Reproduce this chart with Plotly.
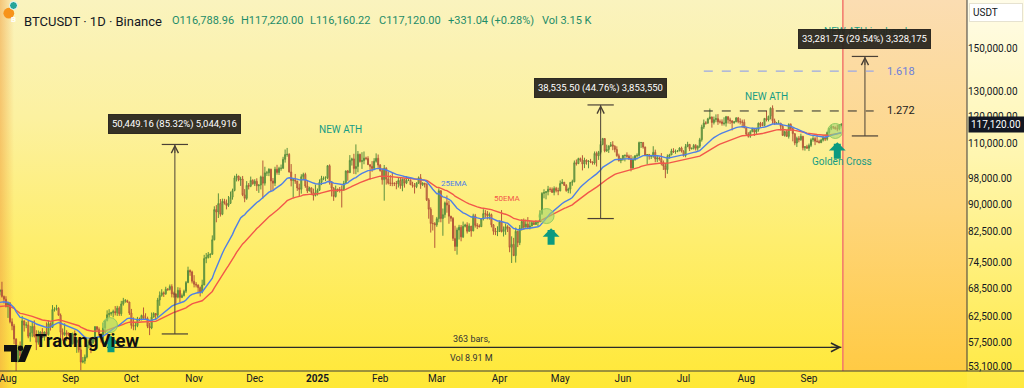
import math
import base64
from datetime import date, datetime, timedelta
import plotly.graph_objects as go

FONT = "Roboto"

# ---------------- data (daily high, low, close) ----------------
jul_2024 = [(68300, 67050, 68250), (70080, 66550, 66800), (67000, 65300, 66200), (66850, 64500, 64600)]
aug_2024 = [(65600, 62300, 65350), (65600, 61200, 61500), (62200, 59850, 60700), (61100, 57200, 58150),
            (58300, 49000, 54000), (57050, 53950, 56050), (57700, 54600, 55100), (62700, 54750, 61700),
            (61750, 59600, 60850), (61450, 60250, 60900), (61850, 58300, 58700), (60700, 57650, 59350),
            (61550, 58500, 60600), (61800, 58450, 58700), (59850, 56100, 57550), (59800, 57100, 58900),
            (59650, 58800, 59500), (60250, 58400, 58450), (59600, 57850, 59500), (61400, 58600, 59000),
            (61800, 58800, 61150), (61400, 59800, 60400), (64950, 60350, 64050), (64500, 63600, 64150),
            (65000, 63800, 64250), (64500, 62800, 62850), (63200, 58050, 59450), (60200, 57850, 59000),
            (61200, 58750, 59350), (59850, 57750, 59100), (59450, 58700, 58950)]
sep_2024 = [(59000, 57200, 57300), (59400, 57100, 59100), (59800, 57400, 57500), (58500, 55600, 57950),
            (58300, 55650, 56150), (56950, 52550, 53950), (54850, 53750, 54150), (55300, 53650, 54850),
            (58100, 54600, 57050), (58050, 56400, 57650), (57950, 55550, 57350), (58600, 57350, 58150),
            (60650, 57650, 60550), (60600, 59450, 60000), (60400, 58700, 59150), (59200, 57500, 58200),
            (61300, 57600, 60300), (61800, 59200, 61750), (63850, 61600, 62950), (64100, 62400, 63200),
            (63550, 62750, 63350), (64000, 62400, 63600), (64750, 62800, 63350), (64800, 62700, 64300),
            (64700, 62700, 63150), (65850, 62700, 65200), (66500, 64850, 65800), (66250, 65450, 65900),
            (66100, 65450, 65600), (65650, 62900, 63300)]
oct_2024 = [(64150, 60150, 60800), (62400, 59850, 60650), (61450, 59850, 60750), (62500, 60450, 62100),
            (62350, 61650, 62050), (62950, 61800, 62800), (64450, 62100, 62250), (63250, 61850, 62150),
            (62550, 60250, 60600), (61300, 58900, 60300), (63400, 60050, 62450), (63450, 62450, 63200),
            (63300, 62000, 62850), (66500, 62400, 66050), (67900, 64800, 67050), (68400, 66750, 67600),
            (67900, 66700, 67400), (68950, 67150, 68400), (68650, 68000, 68350), (69450, 68100, 69000),
            (69500, 66600, 67350), (67850, 66550, 67350), (67450, 65250, 66650), (68850, 66400, 68150),
            (68750, 65550, 66600), (67450, 66450, 67000), (68300, 66800, 67950), (70250, 67550, 69900),
            (73600, 69750, 72700), (72950, 71450, 72350), (72650, 69700, 70200)]
nov_2024 = [(71600, 68800, 69500), (70000, 68800, 69350), (69450, 67450, 68750), (69000, 66800, 67800),
            (70550, 67450, 69350), (76500, 69300, 75600), (76950, 74450, 75850), (77200, 75600, 76500),
            (76850, 75750, 76650), (81500, 76500, 80350), (89600, 80200, 88650), (89950, 85050, 87950),
            (93450, 86250, 90400), (91750, 86650, 87300), (91850, 87050, 91050), (91800, 90100, 90600),
            (91600, 88700, 89850), (92650, 89400, 90450), (94000, 90550, 92300), (94900, 91550, 94300),
            (99000, 94100, 98300), (99600, 97150, 98900), (98850, 97200, 97650), (98650, 95750, 97900),
            (98900, 92600, 93000), (94750, 90800, 91950), (97250, 91500, 95900), (96650, 94650, 95650),
            (98700, 95350, 97450), (97850, 96150, 96400)]
dec_2024 = [(97850, 95700, 97200), (98150, 94200, 95800), (96300, 93600, 96000), (99000, 94650, 98600),
            (104000, 91900, 96600), (101900, 95850, 99900), (100550, 98900, 99900), (101400, 98850, 101100),
            (101250, 94150, 97300), (98250, 94250, 96600), (101900, 95700, 101100), (102550, 99300, 100000),
            (101900, 99200, 101400), (102650, 100600, 101400), (105250, 101250, 104400), (107800, 103300, 106050),
            (108350, 105300, 106100), (106500, 100000, 100200), (102800, 95600, 97450), (98150, 92200, 97700),
            (99550, 96400, 97250), (97350, 94200, 95100), (96450, 92400, 94700), (99450, 93350, 98650),
            (99950, 97600, 99400), (99950, 95150, 95700), (97550, 93550, 94200), (95500, 94050, 95150),
            (95200, 92900, 93700), (94900, 91300, 92800), (96150, 92500, 93600)]
jan_2025 = [(94950, 92800, 94400), (97800, 94200, 96900), (98950, 96000, 98100), (98750, 97550, 98250),
            (98800, 97250, 98350), (102500, 97900, 102250), (102700, 96150, 96950), (97250, 92500, 95050),
            (95350, 91200, 92500), (95850, 92200, 94700), (94950, 93850, 94550), (95400, 93700, 94500),
            (95900, 89250, 94500), (97350, 94300, 96550), (100700, 96500, 100500), (100850, 97350, 99950),
            (105850, 99950, 104050), (104950, 102300, 104550), (106300, 99550, 101300), (109600, 99450, 102000),
            (107250, 100100, 106150), (106300, 103300, 103650), (106850, 101200, 103950), (107100, 102750, 104800),
            (105300, 104100, 104700), (105450, 102500, 102600), (102650, 97750, 102050), (103800, 100250, 101350),
            (104800, 101300, 103750), (106450, 103300, 104750), (106050, 101550, 102450)]
feb_2025 = [(102800, 100300, 100650), (101450, 96150, 97700), (102500, 91250, 101400), (101750, 96150, 97900),
            (100200, 96200, 96600), (99200, 95700, 96550), (100150, 95650, 96550), (96900, 95700, 96500),
            (97300, 94700, 96450), (98350, 95250, 97450), (98500, 94850, 95800), (98100, 94100, 97850),
            (98000, 95200, 96600), (98800, 96300, 97500), (97950, 97250, 97550), (97750, 96050, 96100),
            (97050, 95200, 95800), (96650, 93400, 95550), (96900, 95050, 96600), (98750, 96400, 98300),
            (99500, 94850, 96150), (96900, 95700, 96600), (96650, 95250, 96300), (96500, 91150, 91500),
            (92000, 86050, 88750), (89300, 82250, 84700), (87050, 82800, 84700), (85100, 78250, 84350)]
mar_2025 = [(86550, 83800, 86050), (95000, 85050, 94250), (94400, 85050, 86100), (88950, 81400, 87200),
            (91000, 86300, 90600), (92800, 87750, 89950), (91250, 84650, 86750), (86850, 85250, 86150),
            (86500, 80050, 80700), (84100, 77450, 78600), (83600, 76550, 82950), (84350, 80400, 83700),
            (84300, 79950, 81100), (85250, 80800, 83950), (84650, 83650, 84300), (85050, 82000, 82600),
            (84750, 82450, 84000), (84000, 81150, 82700), (87450, 82600, 86850), (87400, 83600, 84200),
            (84800, 83200, 84050), (84500, 83650, 83850), (86100, 83750, 86050), (88750, 85550, 87500),
            (88500, 86300, 87400), (88250, 85850, 86900), (87800, 85800, 87200), (87500, 83650, 84350),
            (84550, 81650, 82600), (83500, 81550, 82400), (83950, 81300, 82550)]
apr_2025 = [(85500, 82450, 85150), (88500, 82300, 82500), (83900, 81200, 83100), (84700, 81650, 83850),
            (84250, 82400, 83500), (83800, 77150, 78400), (81250, 74500, 79150), (80850, 76200, 76300),
            (83600, 74600, 82600), (82700, 78450, 79600), (84300, 78950, 83400), (85900, 82800, 85300),
            (86100, 83050, 83700), (85800, 83700, 84550), (86500, 83600, 83650), (85500, 83100, 84050),
            (85450, 83950, 84950), (85100, 84300, 84450), (85600, 84400, 85050), (85300, 83950, 85150),
            (88450, 85150, 87500), (93800, 87100, 93450), (94700, 91950, 93700), (94050, 91650, 93950),
            (95750, 92850, 94700), (95300, 93900, 94650), (95250, 93600, 93750), (95600, 92850, 94950),
            (95450, 93750, 94300), (95200, 92900, 94200)]
may_2025 = [(97450, 94100, 96500), (97900, 96300, 96900), (96950, 95750, 95900), (96300, 93950, 94300),
            (95200, 93500, 94750), (96950, 93400, 96850), (97700, 95800, 97050), (104000, 96900, 103250),
            (104350, 102300, 102950), (104950, 102800, 104650), (105000, 103550, 104100), (105800, 100700, 102800),
            (104950, 101450, 104150), (104350, 102600, 103550), (104150, 101400, 103750), (104550, 103100, 103500),
            (103700, 102600, 103150), (107100, 102600, 106450), (107100, 102000, 105600), (107300, 104200, 106800),
            (110800, 106100, 109600), (111950, 109300, 111700), (111300, 106800, 107300), (109500, 106950, 107800),
            (109300, 106600, 109000), (110450, 108700, 109450), (110750, 107550, 108950), (109300, 106800, 107800),
            (108900, 105300, 105650), (106350, 103650, 103950), (104900, 103100, 104600)]
jun_2025 = [(105900, 103900, 105700), (105950, 103700, 105800), (106800, 104900, 105450), (106000, 104150, 104700),
            (105900, 100400, 101500), (105400, 101100, 104300), (105900, 103900, 105600), (106450, 104950, 105750),
            (110600, 105350, 110250), (110400, 108350, 110300), (110400, 108100, 108650), (108800, 105650, 105700),
            (106150, 102650, 106050), (106250, 104300, 105450), (105950, 104500, 105500), (108950, 104950, 106800),
            (107750, 103400, 104550), (105550, 103500, 104850), (105250, 103950, 104650), (106550, 102350, 103300),
            (104000, 100850, 102150), (103150, 98200, 100950), (106100, 99600, 105350), (106300, 104650, 105900),
            (108050, 105900, 107300), (108250, 106600, 106950), (107800, 106300, 107100), (107600, 106850, 107300),
            (108550, 107250, 108350), (108800, 106750, 107150)]
jul_2025 = [(107550, 105300, 105700), (109750, 105100, 108850), (110550, 108600, 109600), (109750, 107250, 108050),
            (108400, 107800, 108250), (109750, 107800, 109200), (109700, 107450, 108250), (109250, 107400, 108950),
            (111950, 108350, 111300), (116850, 110600, 115950), (118850, 115250, 117500), (118200, 116900, 117450),
            (119500, 117250, 119100), (123200, 118950, 119850), (119950, 115750, 117700), (120000, 116950, 118800),
            (120850, 117800, 119200), (120950, 116800, 117950), (118850, 117300, 117950), (118900, 116500, 117300),
            (119700, 116550, 117450), (120250, 116150, 119950), (120100, 117300, 118750), (119550, 117100, 118350),
            (118450, 114700, 117650), (118300, 117200, 117950), (119800, 117850, 119450), (119850, 117400, 118050),
            (119300, 116950, 117900), (118800, 115750, 117800), (118900, 115500, 115750)]
aug_2025 = [(116100, 112700, 113300), (114050, 112050, 112550), (114750, 112000, 114200), (115700, 114150, 115150),
            (115150, 112650, 114100), (115750, 113350, 114950), (117650, 114250, 117450), (117950, 115900, 116650),
            (117850, 116350, 116500), (119300, 116500, 119300), (122300, 118100, 118700), (120300, 118100, 120150),
            (123650, 118900, 123300), (124450, 117200, 118350), (119200, 116800, 117350), (117900, 117150, 117400),
            (118600, 117250, 117450), (117550, 114700, 116250), (117000, 112750, 112850), (114600, 112400, 114250),
            (114850, 112400, 112500), (117400, 111700, 116950), (117400, 114650, 115400), (115650, 110700, 113500),
            (113650, 109300, 110100), (112400, 108700, 111800), (112600, 110350, 111250), (113500, 110900, 112550),
            (112650, 107500, 108400), (108950, 107400, 108800), (109450, 108050, 108250)]
sep_2025 = [(109900, 107250, 109250), (111800, 108650, 111250), (112600, 110550, 111700), (112250, 109350, 110750),
            (113350, 110200, 110650), (111300, 110000, 110200), (111650, 110150, 111150), (112900, 110650, 112050),
            (113250, 110800, 111500), (114300, 110950, 113950), (115550, 113450, 115500), (116800, 114800, 116100),
            (116400, 115200, 115950), (116100, 115050, 115300), (116800, 114400, 115300), (117000, 114750, 116788.96),
            (117220.00, 116160.22, 117120.00)]
first_day = date(2024, 7, 28)
first_open = 67880.0

# EMA values at the left edge of the chart
ema25_seed = 65300.0
ema50_seed = 64500.0

# axes
price_ticks = [53100, 57500, 62500, 68500, 74500, 82500, 90000, 98000, 110000, 120000, 130000, 150000]
month_ticks = ["2024-08-01", "2024-09-01", "2024-10-01", "2024-11-01", "2024-12-01", "2025-01-01", "2025-02-01",
               "2025-03-01", "2025-04-01", "2025-05-01", "2025-06-01", "2025-07-01", "2025-08-01", "2025-09-01"]
month_labels = ["Aug", "Sep", "Oct", "Nov", "Dec", "<b>2025</b>", "Feb", "Mar", "Apr", "May", "Jun", "Jul", "Aug", "Sep"]
last_price = 117120.00

# drawings
measure_dates = ["2024-10-22 12:00", "2025-05-21 00:00", "2025-09-28 16:00"]
measure_low = [59129.34, 86093.50, 112666.25]
measure_high = [109578.50, 124629.00, 145948.00]
measure_text = ["50,449.16 (85.32%) 5,044,916", "38,535.50 (44.76%) 3,853,550", "33,281.75 (29.54%) 3,328,175"]
fib_labels = ["1.272", "1.618"]
fib_prices = [122200, 139100]
fib_span = ["2025-07-11", "2025-10-03"]
cross_dates = ["2024-09-20 10:00", "2025-04-24 06:00", "2025-09-14 00:00"]
cross_prices = [60850, 86800, 114500]
signal_dates = ["2024-09-20 22:00", "2025-04-26 12:00", "2025-09-15 00:00"]
signal_prices = [58800, 83400, 110400]
bars_span = ["2024-09-19", "2025-09-17"]
bars_price = 56600
session_line = "2025-09-17 18:00"

# ---------------- assemble ----------------
months = [jul_2024, aug_2024, sep_2024, oct_2024, nov_2024, dec_2024, jan_2025, feb_2025, mar_2025,
          apr_2025, may_2025, jun_2025, jul_2025, aug_2025, sep_2025]
rows = [r for m in months for r in m]
dates = [(first_day + timedelta(days=i)).isoformat() for i in range(len(rows))]
highs = [r[0] for r in rows]
lows = [r[1] for r in rows]
closes = [r[2] for r in rows]
opens = [first_open] + closes[:-1]


def ema(values, span, seed):
    a = 2.0 / (span + 1)
    out, prev = [], seed
    for v in values:
        prev = a * v + (1 - a) * prev
        out.append(prev)
    return out


ema25 = ema(closes, 25, ema25_seed)
ema50 = ema(closes, 50, ema50_seed)

Y_RANGE = [4.7194, 5.2440]
X_RANGE = ["2024-07-28 01:00", "2025-11-18 03:00"]
PW, PH = 967.0, 371.0  # plot area in pixels


def px(x):
    return x / PW


def py(y):
    return (PH - y) / PH


def shift(d, days):
    dt = datetime.fromisoformat(d)
    return (dt + timedelta(days=days)).isoformat(sep=" ")


LOG = math.log10
fig = go.Figure()

zone_far = "2026-01-31"
fig.add_trace(go.Scatter(
    x=[session_line, zone_far, zone_far, session_line, session_line],
    y=[10 ** Y_RANGE[0], 10 ** Y_RANGE[0], 10 ** Y_RANGE[1], 10 ** Y_RANGE[1], 10 ** Y_RANGE[0]],
    mode="lines", line=dict(width=0), fill="toself",
    fillgradient=dict(type="vertical", colorscale=[[0, "#FFCA44"], [0.45, "#FED67E"], [1, "#FBDDB2"]]),
    hoverinfo="skip", showlegend=False))

fig.add_trace(go.Scatter(x=dates, y=ema50, mode="lines", line=dict(color="#F2574A", width=1.4),
                         hoverinfo="skip", showlegend=False))
fig.add_trace(go.Scatter(x=dates, y=ema25, mode="lines", line=dict(color="#4F7FE6", width=1.4),
                         hoverinfo="skip", showlegend=False))

fig.add_trace(go.Candlestick(
    x=dates, open=opens, high=highs, low=lows, close=closes,
    increasing=dict(line=dict(color="#5B8F3E", width=1), fillcolor="rgba(140,170,70,0.8)"),
    decreasing=dict(line=dict(color="#B5583A", width=1), fillcolor="rgba(210,160,90,0.85)"),
    whiskerwidth=0, hoverinfo="skip", showlegend=False))

fig.add_trace(go.Scatter(x=cross_dates, y=cross_prices, mode="markers",
                         marker=dict(size=15, color="rgba(165,215,110,0.6)",
                                     line=dict(color="rgba(140,200,95,0.9)", width=1)),
                         hoverinfo="skip", showlegend=False))

MCOL = "#4A4036"
for d, lo, hi in zip(measure_dates, measure_low, measure_high):
    half = 6.5
    fig.add_trace(go.Scatter(x=[d, d], y=[lo, hi], mode="lines", line=dict(color=MCOL, width=1),
                             hoverinfo="skip", showlegend=False))
    for v in (lo, hi):
        fig.add_trace(go.Scatter(x=[shift(d, -half), shift(d, half)], y=[v, v], mode="lines",
                                 line=dict(color=MCOL, width=1.2), hoverinfo="skip", showlegend=False))

fig.add_trace(go.Scatter(x=fib_span, y=[fib_prices[1]] * 2, mode="lines",
                         line=dict(color="#9AA8E6", width=1.2, dash="dash"), hoverinfo="skip", showlegend=False))
fig.add_trace(go.Scatter(x=fib_span, y=[fib_prices[0]] * 2, mode="lines",
                         line=dict(color="#2B2B2B", width=1, dash="dash"), hoverinfo="skip", showlegend=False))

fig.add_trace(go.Scatter(x=bars_span, y=[bars_price] * 2, mode="lines", line=dict(color="#2A2A2A", width=1.3),
                         hoverinfo="skip", showlegend=False))

shapes = []
shapes.append(dict(type="line", xref="x", yref="paper", x0=session_line, x1=session_line, y0=0, y1=1,
                   line=dict(color="#F2766B", width=1.5)))
shapes.append(dict(type="line", xref="paper", yref="paper", x0=1, x1=1, y0=0, y1=1,
                   line=dict(color="#3A3A3A", width=1)))
shapes.append(dict(type="line", xref="paper", yref="paper", x0=0, x1=1024 / PW, y0=0, y1=0,
                   line=dict(color="#3A3A3A", width=1)))
shapes.append(dict(type="circle", xref="paper", yref="paper", x0=px(3.4), x1=px(14.2), y0=py(18.6), y1=py(7.8),
                   fillcolor="#F7931A", line=dict(width=0)))
shapes.append(dict(type="circle", xref="paper", yref="paper", x0=px(9.5), x1=px(17.5), y0=py(9.5), y1=py(1.5),
                   fillcolor="#26A69A", line=dict(color="white", width=1)))
# TradingView logo mark
logo = ("M {0},{1} L {2},{1} L {2},{3} L {4},{3} L {4},{5} L {0},{5} Z").format(
    px(4), py(345), px(17), py(362), px(11), py(351.5))
shapes.append(dict(type="path", xref="paper", yref="paper", path=logo, fillcolor="#111111", line=dict(width=0)))
shapes.append(dict(type="circle", xref="paper", yref="paper", x0=px(17.8), x1=px(23.2), y0=py(351),
                   y1=py(345.6), fillcolor="#111111", line=dict(width=0)))
slash = "M {0},{1} L {2},{1} L {3},{4} L {5},{4} Z".format(px(25), py(345), px(32), px(25), py(362), px(18))
shapes.append(dict(type="path", xref="paper", yref="paper", path=slash, fillcolor="#111111", line=dict(width=0)))

ann = []


def text_at(x, price, text, color, size, **kw):
    d = dict(x=x, y=LOG(price), xref="x", yref="y", text=text, showarrow=False,
             font=dict(color=color, size=size, family=FONT))
    d.update(kw)
    ann.append(d)


TEAL = "#169C85"
text_at("2025-01-12 14:00", 114900, "NEW ATH", TEAL, 10)
text_at("2025-08-11 00:00", 128300, "NEW ATH", TEAL, 10)
text_at("2025-09-29 00:00", 158500, "NEW ATH is ahead", TEAL, 10)
text_at("2025-09-17 06:00", 103500, "Golden Cross", TEAL, 10)
text_at("2025-03-09 12:00", 96600, "25EMA", "#4F7FE6", 8)
text_at("2025-04-05 00:00", 92000, "50EMA", "#F2574A", 8)
text_at("2025-10-08 14:00", fib_prices[1], fib_labels[1], "#6C80DA", 11, xanchor="left")
text_at("2025-10-08 14:00", fib_prices[0], fib_labels[0], "#222222", 11, xanchor="left")

for d, hi, t, ys in zip(measure_dates, measure_high, measure_text, [20, 17, 17]):
    ann.append(dict(x=d, y=LOG(hi), xref="x", yref="y", ax=0, ay=10, text="", showarrow=True,
                    arrowhead=5, arrowsize=1.4, arrowwidth=1, arrowcolor=MCOL, standoff=0))
    ann.append(dict(x=d, y=LOG(hi), xref="x", yref="y", text=t, showarrow=False, yshift=ys,
                    bgcolor="rgba(38,34,28,0.93)", bordercolor="rgba(38,34,28,0.93)", borderpad=3,
                    font=dict(color="white", size=9.5, family=FONT)))

ann.append(dict(x=bars_span[1], y=LOG(bars_price), xref="x", yref="y", ax=-12, ay=0, text="",
                showarrow=True, arrowhead=5, arrowsize=1.4, arrowwidth=1.2, arrowcolor="#2A2A2A", standoff=0))
text_at("2025-03-18 00:00", bars_price, "363 bars,", "#333333", 9, yshift=8)
text_at("2025-03-18 00:00", bars_price, "Vol 8.91 M", "#333333", 9, yshift=-11)

for d, p in zip(signal_dates, signal_prices):
    ann.append(dict(x=d, y=LOG(p), xref="x", yref="y", ax=0, ay=18, text="", showarrow=True,
                    arrowhead=1, arrowsize=0.4, arrowwidth=7, arrowcolor="#0B9A80", standoff=0))

ann.append(dict(x=px(8.8), y=py(13.2), xref="paper", yref="paper", text="<b>B</b>", showarrow=False,
                font=dict(color="white", size=8, family=FONT)))
ann.append(dict(x=px(22), y=py(12.5), xref="paper", yref="paper", xanchor="left", text="BTCUSDT · 1D · Binance",
                showarrow=False, font=dict(color="#131722", size=13, family=FONT)))
hdr = [("O", "116,788.96", 170), ("H", "117,220.00", 239), ("L", "116,160.22", 308), ("C", "117,120.00", 377)]
for k, v, xx in hdr:
    ann.append(dict(x=px(xx), y=py(12.5), xref="paper", yref="paper", xanchor="left",
                    text=f"{k}{v}", showarrow=False,
                    font=dict(color="#1E8C68", size=11, family=FONT)))
ann.append(dict(x=px(446), y=py(12.5), xref="paper", yref="paper", xanchor="left", text="+331.04 (+0.28%)",
                showarrow=False, font=dict(color="#1E8C68", size=11, family=FONT)))
ann.append(dict(x=px(540), y=py(12.5), xref="paper", yref="paper", xanchor="left", text="Vol 3.15 K",
                showarrow=False, font=dict(color="#1E8C68", size=11, family=FONT)))

ann.append(dict(x=px(33), y=py(354), xref="paper", yref="paper", xanchor="left", text="<b>TradingView</b>",
                showarrow=False, font=dict(color="#111111", size=18.5, family=FONT)))

ann.append(dict(x=1, y=LOG(last_price), xref="paper", yref="y", xanchor="left", xshift=1,
                text=f"{last_price:,.2f}", showarrow=False, bgcolor="#131722", borderpad=2, width=52,
                align="left", font=dict(color="white", size=10, family=FONT)))
ann.append(dict(x=1, y=1, xref="paper", yref="paper", xanchor="left", yanchor="top", xshift=2, yshift=-3,
                text="USDT", showarrow=False, bgcolor="white", bordercolor="#E6E2D0", borderpad=3, width=46,
                align="left", font=dict(color="#131722", size=10, family=FONT)))

svg = """<svg xmlns='http://www.w3.org/2000/svg' width='1024' height='388' viewBox='0 0 1024 388' preserveAspectRatio='none'>
<defs>
<linearGradient id='v' x1='0' y1='0' x2='0' y2='1'>
<stop offset='0' stop-color='#FAF3BE'/><stop offset='0.3' stop-color='#FCF1A0'/>
<stop offset='0.62' stop-color='#FEEE6E'/><stop offset='1' stop-color='#FFE836'/></linearGradient>
<linearGradient id='a' x1='0' y1='0' x2='0' y2='1'>
<stop offset='0' stop-color='#FFFCE8'/><stop offset='0.4' stop-color='#FFF6B0'/><stop offset='1' stop-color='#FFE940'/></linearGradient>
<linearGradient id='h' x1='0' y1='0' x2='1' y2='0'>
<stop offset='0' stop-color='#F0A040' stop-opacity='0.55'/><stop offset='1' stop-color='#F0A040' stop-opacity='0'/></linearGradient>
</defs>
<rect width='1024' height='388' fill='url(#v)'/>
<rect x='967' width='57' height='388' fill='url(#a)'/>
<rect width='14' height='388' fill='url(#h)'/>
</svg>"""
bg_src = "data:image/svg+xml;base64," + base64.b64encode(svg.encode()).decode()

fig.update_layout(
    width=1024, height=388,
    margin=dict(l=0, r=1024 - PW, t=0, b=388 - PH),
    paper_bgcolor="rgba(0,0,0,0)", plot_bgcolor="rgba(0,0,0,0)",
    showlegend=False, hovermode=False,
    font=dict(family=FONT, color="#131722"),
    images=[dict(source=bg_src, xref="paper", yref="paper", x=0, y=1, sizex=1024 / PW, sizey=388 / PH,
                 xanchor="left", yanchor="top", sizing="stretch", layer="below")],
    shapes=shapes, annotations=ann,
    xaxis=dict(type="date", range=X_RANGE, rangeslider=dict(visible=False), showgrid=False, zeroline=False,
               tickvals=month_ticks, ticktext=month_labels, ticks="", tickfont=dict(size=10, color="#131722"),
               ticklabeloverflow="allow", showline=False, fixedrange=True),
    yaxis=dict(type="log", range=Y_RANGE, side="right", showgrid=False, zeroline=False,
               tickvals=price_ticks, ticktext=[f"{v:,.2f}" for v in price_ticks], ticks="",
               tickfont=dict(size=10, color="#131722"), ticklabeloverflow="allow", showline=False,
               fixedrange=True),
)

fig.write_html("out.html", config={"displayModeBar": False},
               post_script="document.body.style.margin='0';document.body.style.overflow='hidden';")
